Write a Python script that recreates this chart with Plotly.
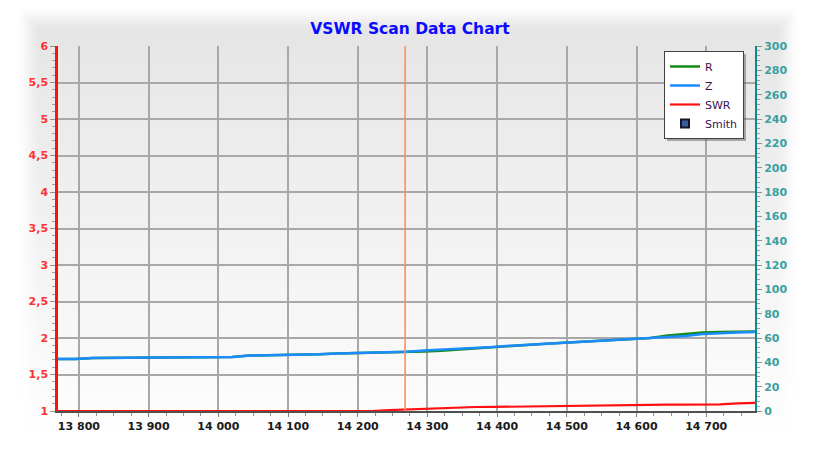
import base64, struct, zlib
import plotly.graph_objects as go

# ---------------- data ----------------
freq = [13770, 13795, 13820, 13845, 13870, 13895, 13920, 13945, 13970, 13995,
        14020, 14045, 14070, 14095, 14120, 14145, 14170, 14195, 14220, 14245,
        14270, 14295, 14320, 14345, 14370, 14395, 14420, 14445, 14470, 14495,
        14520, 14545, 14570, 14595, 14620, 14645, 14670, 14695, 14720, 14745,
        14770]
z_ohm = [42.7, 42.7, 43.5, 43.6, 43.6, 43.7, 43.8, 44.2, 44.3, 44.3,
         44.4, 45.6, 45.7, 45.8, 46.4, 46.6, 47.2, 47.5, 48.1, 48.4,
         48.8, 49.8, 50.4, 51.0, 51.9, 52.6, 53.6, 54.4, 55.3, 56.1,
         56.9, 57.5, 58.5, 59.3, 60.0, 60.8, 61.6, 63.2, 64.2, 64.6,
         64.9]
r_ohm = [42.7, 42.7, 43.5, 43.6, 43.6, 43.7, 43.8, 44.2, 44.3, 44.3,
         44.4, 45.6, 45.7, 45.8, 46.4, 46.6, 47.2, 47.5, 48.1, 48.4,
         48.6, 48.9, 49.6, 50.6, 51.9, 52.6, 53.6, 54.4, 55.3, 56.1,
         56.9, 57.5, 58.5, 59.3, 60.0, 62.0, 63.4, 64.6, 65.0, 65.3,
         65.3]
swr = [1.0, 1.0, 1.0, 1.0, 1.0, 1.0, 1.0, 1.0, 1.0, 1.0,
       1.0, 1.0, 1.0, 1.0, 1.0, 1.0, 1.0, 1.0, 1.0, 1.012,
       1.022, 1.026, 1.04, 1.046, 1.055, 1.056, 1.06, 1.062, 1.062, 1.07,
       1.075, 1.078, 1.084, 1.085, 1.086, 1.086, 1.086, 1.086, 1.09, 1.104,
       1.11]
marker_freq = 14268
x_range = [13770, 14770]
swr_range = [1, 6]
ohm_range = [0, 300]

# ---------------- background image (soft panel) ----------------
W, H = 816, 452
S = 4
w, h = W // S, H // S + 1
rows = []
for j in range(h):
    Y = (j + 0.5) * S
    row = bytearray()
    for i in range(w):
        X = (i + 0.5) * S
        d = min(X - 16, 800 - X, Y - 6, 448 - Y)
        a = max(0.0, min(1.0, d / 26.0))
        a = a * a * (3 - 2 * a)
        g = 229 + max(0.0, min(1.0, (Y - 20) / 420.0)) * 25
        v = int(round(255 - a * (255 - g)))
        row += bytes((v, v, v))
    rows.append(b"\x00" + bytes(row))
raw = b"".join(rows)


def chunk(t, data):
    c = struct.pack(">I", len(data)) + t + data
    return c + struct.pack(">I", zlib.crc32(t + data) & 0xffffffff)


png = b"\x89PNG\r\n\x1a\n" + chunk(b"IHDR", struct.pack(">IIBBBBB", w, h, 8, 2, 0, 0, 0)) \
    + chunk(b"IDAT", zlib.compress(raw, 9)) + chunk(b"IEND", b"")
bg_src = "data:image/png;base64," + base64.b64encode(png).decode()

# ---------------- figure ----------------
ML, MR, MT, MB = 58, 61, 46, 41
PW, PH = W - ML - MR, H - MT - MB

fig = go.Figure()
fig.add_trace(go.Scatter(x=freq, y=r_ohm, name="R", yaxis="y2", mode="lines",
                         line=dict(color="#138a13", width=2.5)))
fig.add_trace(go.Scatter(x=freq, y=z_ohm, name="Z", yaxis="y2", mode="lines",
                         line=dict(color="#1a8cff", width=2.5)))
fig.add_trace(go.Scatter(x=freq, y=swr, name="SWR", mode="lines",
                         line=dict(color="#ff1010", width=2.2)))
fig.add_trace(go.Scatter(x=[None], y=[None], name="Smith", mode="markers",
                         marker=dict(symbol="square", size=8, color="#3d5c9c",
                                     line=dict(color="#101828", width=2))))

fig.add_shape(type="line", xref="x", yref="paper", x0=marker_freq, x1=marker_freq,
              y0=0, y1=1, line=dict(color="#ff9055", width=1.6), layer="above")

# legend box and its drop shadow
LEG_X, LEG_Y, LEG_W, LEG_H = 664, 51, 79, 87
fig.add_shape(type="rect", xref="paper", yref="paper",
              x0=(LEG_X + 3 - ML) / PW, x1=(LEG_X + LEG_W + 3 - ML) / PW,
              y0=(411 - LEG_Y - LEG_H - 3) / PH, y1=(411 - LEG_Y - 3) / PH,
              fillcolor="rgba(80,80,80,0.45)", line=dict(width=0), layer="above")

fig.update_layout(
    width=W, height=H,
    margin=dict(l=ML, r=MR, t=MT, b=MB),
    paper_bgcolor="white",
    plot_bgcolor="rgba(0,0,0,0)",
    separators=", ",
    title=dict(text="<b>VSWR Scan Data Chart</b>", x=(410 - ML) / PW, xanchor="center",
               xref="paper", y=1 - 29 / H, yanchor="middle",
               font=dict(family="DejaVu Sans", size=15.5, color="#0a0aff")),
    images=[dict(source=bg_src, xref="paper", yref="paper",
                 x=-ML / PW, y=1 + MT / PH, sizex=W / PW, sizey=H / PH,
                 sizing="stretch", layer="below", xanchor="left", yanchor="top")],
    showlegend=True,
    legend=dict(x=(LEG_X - ML) / PW, y=(411 - LEG_Y) / PH, xanchor="left", yanchor="top",
                bgcolor="white", bordercolor="#404040", borderwidth=1,
                font=dict(family="DejaVu Sans", size=11, color="#3a1050"),
                itemwidth=30, tracegroupgap=0),
    xaxis=dict(range=x_range, dtick=100, tick0=13800, showgrid=True,
               tickformat=",d",
               gridcolor="#a8a8a8", gridwidth=2, zeroline=False,
               showline=True, linecolor="#505050", linewidth=2,
               ticks="outside", ticklen=4, tickcolor="#808080",
               minor=dict(dtick=25, tick0=13800, ticks="outside", ticklen=3,
                          tickcolor="#909090", showgrid=False),
               tickfont=dict(family="DejaVu Sans", size=11, color="#1a1a1a", weight="bold"),
               ),
    yaxis=dict(range=swr_range, dtick=0.5, tick0=1, showgrid=True,
               gridcolor="#a8a8a8", gridwidth=2, zeroline=False,
               showline=True, linecolor="#ff1010", linewidth=2.5,
               ticks="outside", ticklen=5, tickcolor="#909090",
               minor=dict(dtick=0.1, ticks="outside", ticklen=3, tickcolor="#a0a0a0",
                          showgrid=False),
               tickfont=dict(family="DejaVu Sans", size=11, color="#ff3030", weight="bold"),
               ),
    yaxis2=dict(range=ohm_range, dtick=20, overlaying="y", side="right",
                showgrid=False, zeroline=False,
                showline=True, linecolor="#0a8a8a", linewidth=2,
                ticks="outside", ticklen=5, tickcolor="#909090",
                minor=dict(dtick=4, ticks="outside", ticklen=3, tickcolor="#a0a0a0"),
                tickfont=dict(family="DejaVu Sans", size=11, color="#3aa0a0", weight="bold"),
                ),
)

fig.write_html("out.html", config={"displayModeBar": False},
               post_script="document.body.style.margin='0';document.body.style.padding='0';")
